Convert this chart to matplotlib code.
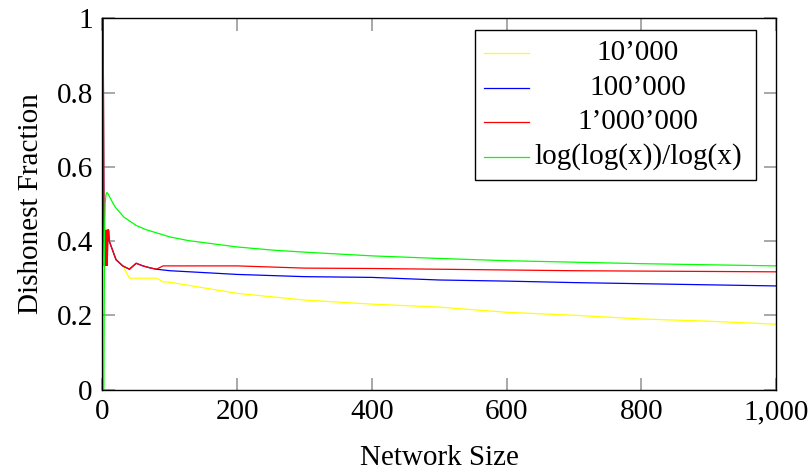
import matplotlib
matplotlib.use("Agg")
import matplotlib.pyplot as plt
from matplotlib.patches import Rectangle
from matplotlib.lines import Line2D
from matplotlib.ticker import FuncFormatter

# ---- data ----
x_sim = [1, 2, 3, 4, 5, 6, 7, 8, 9, 10, 20, 30, 40, 50, 60, 70, 80, 90, 100,
         200, 300, 400, 500, 600, 700, 800, 900, 1000]
y_10k = [1.0, 0.5, 0.333, 0.43, 0.333, 0.43, 0.333, 0.43, 0.43, 0.40, 0.35, 0.333,
         0.300, 0.300, 0.300, 0.300, 0.300, 0.290, 0.289,
         0.259, 0.241, 0.230, 0.222, 0.208, 0.200, 0.190, 0.184, 0.176]
y_100k = [1.0, 0.5, 0.333, 0.43, 0.333, 0.43, 0.333, 0.43, 0.43, 0.40, 0.35, 0.333,
          0.324, 0.340, 0.333, 0.328, 0.324, 0.322, 0.320,
          0.310, 0.304, 0.302, 0.295, 0.292, 0.288, 0.285, 0.282, 0.279]
y_1m = [1.0, 0.5, 0.333, 0.43, 0.333, 0.43, 0.333, 0.43, 0.43, 0.40, 0.35, 0.333,
        0.324, 0.340, 0.333, 0.328, 0.324, 0.333, 0.333,
        0.333, 0.327, 0.326, 0.324, 0.322, 0.320, 0.319, 0.318, 0.317]

x_ref = [2, 3, 4, 5, 6, 7, 8, 10, 16, 20, 32, 50, 64, 100, 128, 200, 256, 300,
         400, 500, 600, 700, 800, 900, 1000]
y_ref = [0.0, 0.419, 0.5, 0.523, 0.530, 0.530, 0.528, 0.521, 0.5, 0.489, 0.464,
         0.442, 0.431, 0.411, 0.401, 0.384, 0.375, 0.370, 0.360, 0.353, 0.347,
         0.343, 0.339, 0.336, 0.333]

labels = ["10\u2019000", "100\u2019000", "1\u2019000\u2019000", "log(log(x))/log(x)"]
colors = ["#ffff00", "#0000ff", "#ff0000", "#00ff00"]

x_ticks = [0, 200, 400, 600, 800, 1000]
y_ticks = [0, 0.2, 0.4, 0.6, 0.8, 1.0]

plt.rcParams["font.family"] = ["Liberation Serif", "DejaVu Serif"]
FS = 21

W, H = 812, 473
fig = plt.figure(figsize=(W / 100, H / 100), dpi=100)
left, right, top, bottom = 102.5, 776, 18.3, 389.5
ax = fig.add_axes([left / W, 1 - bottom / H, (right - left) / W, (bottom - top) / H])

series = [(x_sim, y_10k), (x_sim, y_100k), (x_sim, y_1m), (x_ref, y_ref)]
for (xs, ys), c in zip(series, colors):
    ax.plot(xs, ys, color=c, lw=0.9, solid_joinstyle="miter")

ax.set_xlim(0, 1000)
ax.set_ylim(0, 1)
ax.set_xticks(x_ticks)
ax.set_yticks(y_ticks)
ax.xaxis.set_major_formatter(FuncFormatter(lambda v, p: f"{int(v):,}"))
ax.yaxis.set_major_formatter(FuncFormatter(lambda v, p: "0" if v == 0 else ("1" if v == 1 else f"{v:.1f}")))
ax.tick_params(direction="in", length=9, width=1.2, color="#999999",
               top=True, right=True, labelsize=FS, pad=7)
for s in ax.spines.values():
    s.set_linewidth(1.0)
    s.set_color("black")

ax.set_xlabel("Network Size", fontsize=FS, labelpad=14)
ax.set_ylabel("Dishonest Fraction", fontsize=FS, labelpad=9)

# legend (pgfplots style: centered entries in a box)
def px2ax(px, py):
    return ((px - left) / (right - left), (bottom - py) / (bottom - top))

bx0, by0 = px2ax(475, 180)
bx1, by1 = px2ax(756, 30)
ax.add_patch(Rectangle((bx0, by0), bx1 - bx0, by1 - by0, transform=ax.transAxes,
                       facecolor="white", edgecolor="black", lw=1.0, zorder=5))
rows_py = [53, 88, 122, 157]
for lab, c, py in zip(labels, colors, rows_py):
    hx0, hy = px2ax(484, py)
    hx1, _ = px2ax(529, py)
    ax.add_line(Line2D([hx0, hx1], [hy, hy], transform=ax.transAxes, color=c,
                       lw=0.9, zorder=6))
    tx, ty = px2ax(638, py)
    ax.text(tx, ty, lab, transform=ax.transAxes, ha="center", va="center",
            fontsize=FS, zorder=6)

fig.savefig("out.png", dpi=100)
